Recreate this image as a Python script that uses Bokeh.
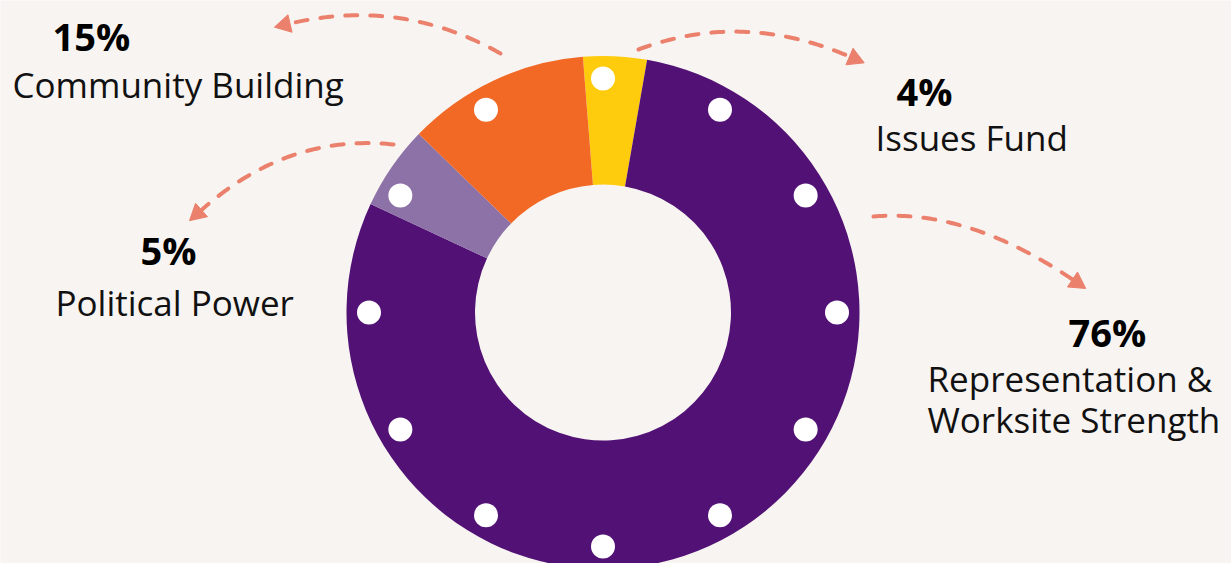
import math
from bokeh.plotting import figure
from bokeh.models import Range1d, ColumnDataSource
from bokeh.core.properties import value
from bokeh.embed import file_html
from bokeh.resources import INLINE

# ---- data ----
categories = ["Issues Fund", "Representation & Worksite Strength", "Political Power", "Community Building"]
# wedge sizes as drawn in the picture (percent of the ring)
wedge_share = [4.0, 79.2, 5.3, 11.5]
wedge_colors = ["#FECC0C", "#521175", "#8D72A8", "#F26925"]
pct_labels = ["4%", "76%", "5%", "15%"]
name_labels = ["Issues Fund", "Representation &\nWorksite Strength", "Political Power", "Community Building"]

BG = "#F8F4F1"
ARROW = "#EB806C"

W, H = 1231, 563
def Y(py):  # reference pixel row -> data y
    return H - py

p = figure(width=W, height=H, output_backend="svg", toolbar_location=None,
           x_range=Range1d(0, W), y_range=Range1d(0, H),
           min_border=0, background_fill_color=BG, border_fill_color=BG)
p.axis.visible = False
p.grid.visible = False
p.outline_line_color = None

# ---- donut ----
cx, cy = 602.5, Y(312)
r_out, r_in = 256.5, 128
start_cw = -4.5  # degrees clockwise from top where the first wedge begins
starts, ends = [], []
acc = start_cw
total = sum(wedge_share)
for s in wedge_share:
    a0 = acc
    a1 = acc + 360.0 * s / total
    starts.append(math.radians(90 - a0))
    ends.append(math.radians(90 - a1))
    acc = a1
src = ColumnDataSource(dict(start=starts, end=ends, color=wedge_colors, name=categories))
p.annular_wedge(x=cx, y=cy, inner_radius=r_in, outer_radius=r_out,
                start_angle="start", end_angle="end", direction="clock",
                fill_color="color", line_color=None, source=src)

# white dots around the ring
n_dots = 12
r_dot = 234
dx = [cx + r_dot * math.sin(math.radians(i * 360 / n_dots)) for i in range(n_dots)]
dy = [cy + r_dot * math.cos(math.radians(i * 360 / n_dots)) for i in range(n_dots)]
p.scatter(dx, dy, size=24, fill_color="white", line_color=None)

# ---- dashed curved arrows (start, control, end) in reference pixels ----
arrows = [
    ((500, 53), (401, -3), (289.5, 23)),
    ((638, 49), (742, 10), (849, 56)),
    ((873, 216), (967, 208), (1072, 279)),
    ((393, 144), (287, 133), (201, 209.5)),
]
head_len, head_w = 16, 18
for (x0, y0), (xc, yc), (x2, y2) in arrows:
    ts = [i / 60 for i in range(61)]
    xs = [(1 - t) ** 2 * x0 + 2 * t * (1 - t) * xc + t * t * x2 for t in ts]
    ys = [Y((1 - t) ** 2 * y0 + 2 * t * (1 - t) * yc + t * t * y2) for t in ts]
    p.line(xs, ys, line_color=ARROW, line_width=4, line_dash="12 13", line_cap="round")
    tx, ty = x2 - xc, y2 - yc
    n = math.hypot(tx, ty)
    ux, uy = tx / n, ty / n
    tip = (x2 + ux * head_len, y2 + uy * head_len)
    b1 = (x2 - uy * head_w / 2, y2 + ux * head_w / 2)
    b2 = (x2 + uy * head_w / 2, y2 - ux * head_w / 2)
    p.patch([tip[0], b1[0], b2[0]], [Y(tip[1]), Y(b1[1]), Y(b2[1])],
            fill_color=ARROW, line_color=ARROW, line_width=1)

# ---- labels ----
pct_pos = [(896, 102), (1068, 343), (140, 261), (52, 47)]
name_pos = [(875, 149), (927, 390), (55, 314), (12, 96)]
line_gap = 41
shift = 12  # baseline correction
for lab, (x, yb) in zip(pct_labels, pct_pos):
    p.text([x], [Y(yb - shift)], text=[lab], text_font=value("Open Sans"), text_font_style="bold",
           text_font_size="38px", text_color="#000000",
           text_align="left", text_baseline="alphabetic")
for lab, (x, yb) in zip(name_labels, name_pos):
    for k, line in enumerate(lab.split("\n")):
        p.text([x], [Y(yb - shift + k * line_gap)], text=[line], text_font=value("Open Sans"),
               text_font_size="35px", text_color="#111111",
               text_align="left", text_baseline="alphabetic")

open("out.html", "w").write(file_html(p, INLINE))
